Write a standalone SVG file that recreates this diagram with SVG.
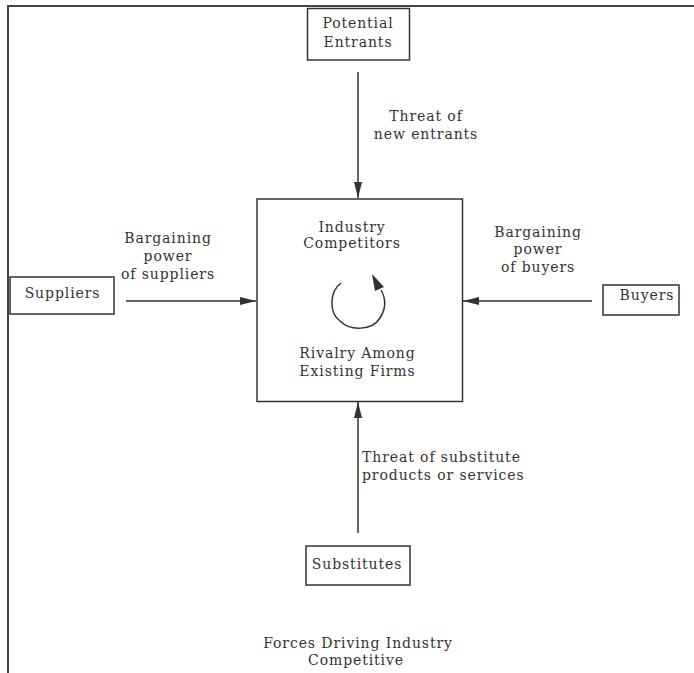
<svg xmlns="http://www.w3.org/2000/svg" width="694" height="673" viewBox="0 0 694 673">
<style>
text{font-family:"DejaVu Serif","Liberation Serif",serif;font-size:14px;letter-spacing:0.9px;fill:#333;text-anchor:middle}
.box{fill:#fff;stroke:#333;stroke-width:1.5}
.ln{stroke:#333;stroke-width:1.5;fill:none}
.frame{stroke:#444;stroke-width:2;fill:none}
</style>
<defs>
<marker id="ah" viewBox="0 0 16 10" refX="16" refY="5" markerWidth="16" markerHeight="10" markerUnits="userSpaceOnUse" orient="auto">
<path d="M0,1 L16,5 L0,9 Z" fill="#333"/>
</marker>
</defs>
<rect width="694" height="673" fill="#fff"/>
<path class="frame" d="M8,673 L8,6 L694,6"/>
<g id="connectors">
<line class="ln" x1="358" y1="72" x2="358" y2="198" marker-end="url(#ah)"/>
<line class="ln" x1="126" y1="301" x2="256" y2="301" marker-end="url(#ah)"/>
<line class="ln" x1="592" y1="301" x2="463" y2="301" marker-end="url(#ah)"/>
<line class="ln" x1="358" y1="533" x2="358" y2="402" marker-end="url(#ah)"/>
</g>
<g id="potential-entrants">
<rect class="box" x="307.5" y="8.5" width="102" height="51.5"/>
<text x="358" y="28">Potential</text>
<text x="358" y="46.5">Entrants</text>
</g>
<g id="industry-competitors">
<rect class="box" x="257" y="199" width="205.5" height="202.5"/>
<text x="352" y="231.5">Industry</text>
<text x="352" y="248">Competitors</text>
<path class="ln" d="M341,283 C329,292 329,313 340,321 C350,331 372,331 380,318 C387,307 385,297 381,290"/>
<polygon points="372,274 384,287 375,291" fill="#333"/>
<text x="357.5" y="358">Rivalry Among</text>
<text x="357.5" y="375.5">Existing Firms</text>
</g>
<g id="suppliers">
<rect class="box" x="10" y="277" width="104" height="37"/>
<text x="62.5" y="298">Suppliers</text>
</g>
<g id="buyers">
<rect class="box" x="603" y="285" width="76" height="30"/>
<text x="647" y="300">Buyers</text>
</g>
<g id="substitutes">
<rect class="box" x="306" y="546" width="104" height="39"/>
<text x="357" y="569">Substitutes</text>
</g>
<g id="labels">
<text x="426" y="120.5">Threat of</text>
<text x="426" y="139">new entrants</text>
<text x="168" y="243">Bargaining</text>
<text x="168" y="261">power</text>
<text x="168" y="279">of suppliers</text>
<text x="538" y="237">Bargaining</text>
<text x="538" y="254">power</text>
<text x="538" y="272">of buyers</text>
<text x="362" y="462" style="text-anchor:start">Threat of substitute</text>
<text x="362" y="480" style="text-anchor:start">products or services</text>
<text x="358" y="648">Forces Driving Industry</text>
<text x="356" y="665">Competitive</text>
</g>
</svg>
